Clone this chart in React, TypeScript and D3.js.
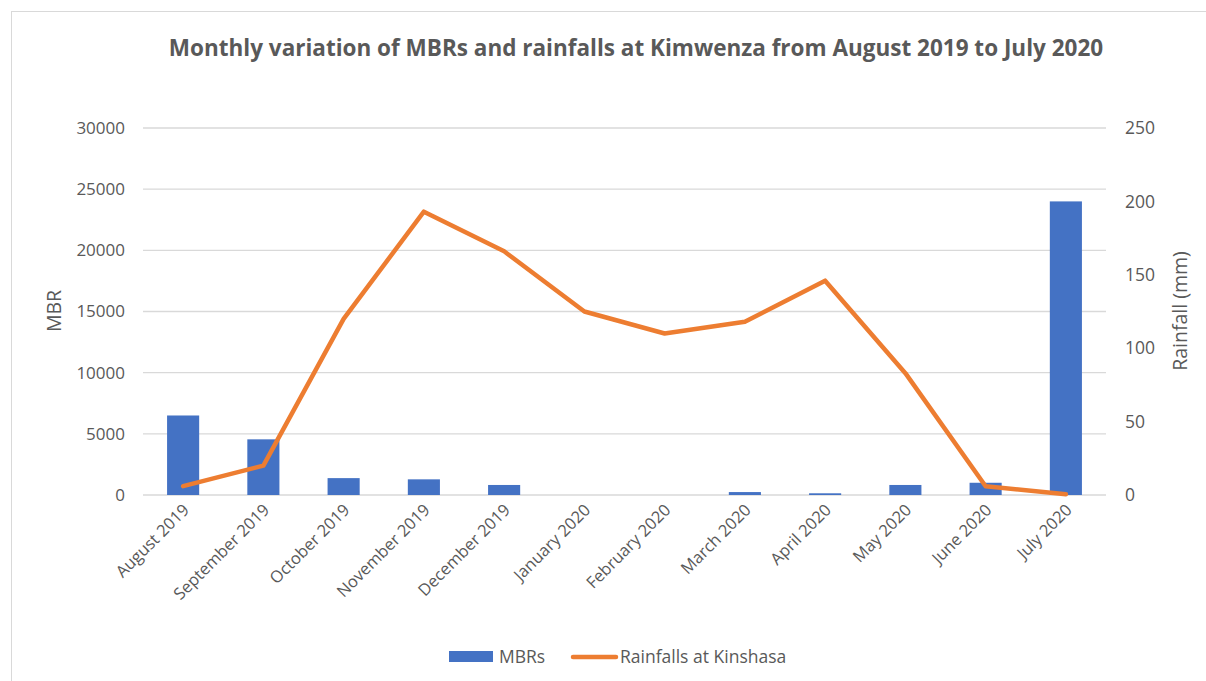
import React from 'react';
import * as d3 from 'd3';

const months = [
  'August 2019', 'September 2019', 'October 2019', 'November 2019', 'December 2019',
  'January 2020', 'February 2020', 'March 2020', 'April 2020', 'May 2020', 'June 2020', 'July 2020',
];
const mbrs = [6500, 4550, 1380, 1280, 820, 0, 0, 240, 140, 820, 1000, 24000];
const rainfall = [6, 20, 120, 193, 166, 125, 110, 118, 146, 83, 6, 0.5];
const leftTicks = [0, 5000, 10000, 15000, 20000, 25000, 30000];
const rightTicks = [0, 50, 100, 150, 200, 250];

const W = 1206;
const H = 681;
const font = "'Open Sans', 'Noto Sans', sans-serif";
const textColor = '#595959';

const App: React.FC = () => {
  const left = 143;
  const right = 1106;
  const top = 128;
  const bottom = 495;

  const x = d3.scaleBand<string>().domain(months).range([left, right]).paddingInner(0).paddingOuter(0);
  const yL = d3.scaleLinear().domain([0, 30000]).range([bottom, top]);
  const yR = d3.scaleLinear().domain([0, 250]).range([bottom, top]);
  const barW = x.bandwidth() / 2.5;
  const cx = (m: string) => (x(m) ?? 0) + x.bandwidth() / 2;

  const line = d3
    .line<number>()
    .x((_, i) => cx(months[i]))
    .y(d => yR(d));

  return (
    <svg width={W} height={H} style={{ position: 'absolute', left: 0, top: 0 }} fontFamily={font}>
      <rect x={0} y={0} width={W} height={H} fill="#ffffff" />
      <rect x={11.5} y={11.5} width={W + 20} height={H + 20} fill="none" stroke="#d9d9d9" strokeWidth={1} />

      <text x={636} y={56} textAnchor="middle" fontSize={22.5} fontWeight={700} fill={textColor}>
        Monthly variation of MBRs and rainfalls at Kimwenza from August 2019 to July 2020
      </text>

      {leftTicks.map(t => (
        <g key={`g${t}`}>
          <line x1={left} x2={right} y1={yL(t)} y2={yL(t)} stroke="#d9d9d9" strokeWidth={1.3} />
          <text x={125} y={yL(t)} dy="0.35em" textAnchor="end" fontSize={17} fill={textColor}>
            {t}
          </text>
        </g>
      ))}
      {rightTicks.map(t => (
        <text key={`r${t}`} x={1125} y={yR(t)} dy="0.35em" textAnchor="start" fontSize={17.5} fill={textColor}>
          {t}
        </text>
      ))}

      <text transform={`translate(61,311) rotate(-90)`} textAnchor="middle" fontSize={19.5} fill={textColor}>
        MBR
      </text>
      <text transform={`translate(1187,311) rotate(-90)`} textAnchor="middle" fontSize={19.5} fill={textColor}>
        Rainfall (mm)
      </text>

      {months.map((m, i) => (
        <rect
          key={m}
          x={cx(m) - barW / 2}
          y={yL(mbrs[i])}
          width={barW}
          height={bottom - yL(mbrs[i])}
          fill="#4472c4"
        />
      ))}

      <path d={line(rainfall) ?? ''} fill="none" stroke="#ed7d31" strokeWidth={4.5} strokeLinejoin="round" strokeLinecap="round" />

      {months.map(m => (
        <text
          key={`l${m}`}
          transform={`translate(${cx(m) + 7},${bottom + 16}) rotate(-45)`}
          textAnchor="end"
          fontSize={16.5}
          fill={textColor}
        >
          {m}
        </text>
      ))}

      <rect x={449} y={651} width={44} height={11} fill="#4472c4" />
      <text x={499} y={657} dy="0.35em" fontSize={17.5} fill={textColor}>
        MBRs
      </text>
      <line x1={573} x2={616} y1={657} y2={657} stroke="#ed7d31" strokeWidth={4.5} strokeLinecap="round" />
      <text x={620} y={657} dy="0.35em" fontSize={17.5} fill={textColor}>
        Rainfalls at Kinshasa
      </text>
    </svg>
  );
};

export default App;
